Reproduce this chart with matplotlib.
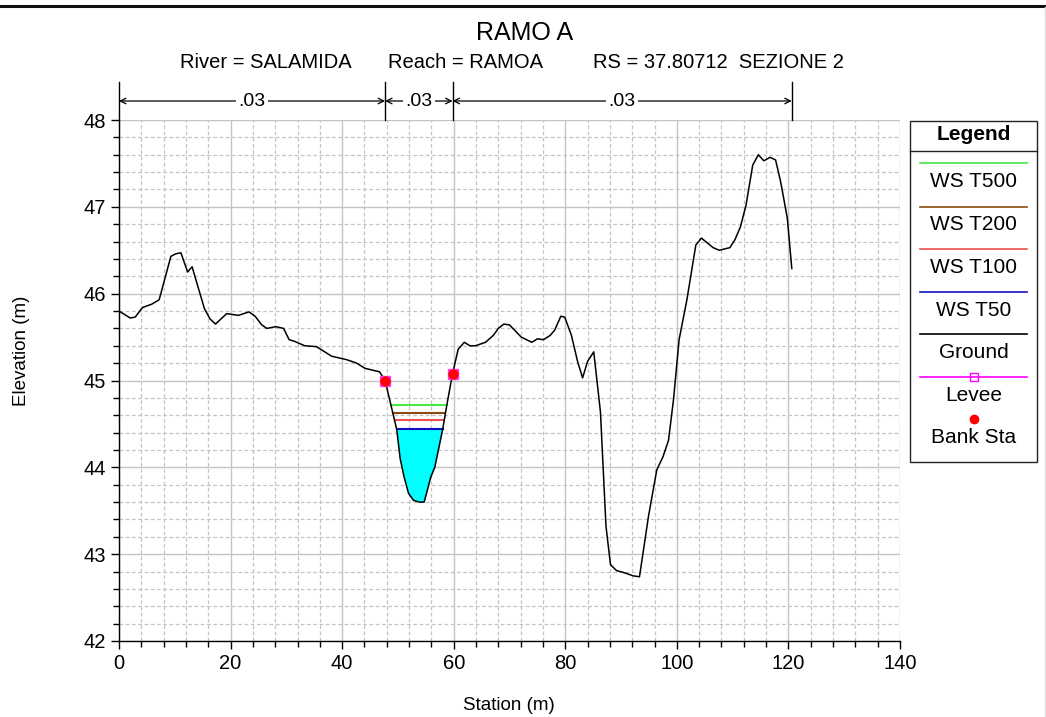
import numpy as np
import matplotlib
matplotlib.use("Agg")
import matplotlib.pyplot as plt
from matplotlib.lines import Line2D
from matplotlib.ticker import MultipleLocator

plt.rcParams['font.family'] = ['Liberation Sans', 'DejaVu Sans']

# ---------------- data ----------------
station = [0.0, 2.0, 2.9, 4.2, 5.9, 7.2, 9.3, 10.2, 11.1, 12.3, 13.1, 15.3, 16.3, 17.3,
           19.3, 21.4, 23.3, 24.4, 25.6, 26.5, 28.1, 29.5, 30.5, 31.5, 33.3, 35.4, 38.1,
           40.8, 42.6, 44.1, 46.7, 47.7, 48.7, 49.8, 50.4, 51.1, 51.9, 52.8, 53.8, 54.7,
           55.2, 55.9, 56.6, 58.0, 58.8, 59.8, 60.8, 61.9, 62.9, 63.9, 65.7, 67.1, 68.0,
           69.0, 70.0, 72.1, 74.0, 75.0, 76.1, 77.3, 78.1, 79.2, 79.9, 81.1, 82.2, 83.1,
           84.0, 85.1, 86.3, 87.3, 88.1, 89.2, 90.4, 92.2, 93.3, 94.9, 96.4, 97.5, 98.5,
           99.4, 100.4, 101.8, 103.4, 104.4, 106.5, 107.6, 109.5, 110.4, 111.4, 112.4,
           113.6, 114.6, 115.6, 116.7, 117.7, 118.6, 119.8, 120.6]
elevation = [45.80, 45.72, 45.73, 45.84, 45.88, 45.93, 46.43, 46.46, 46.47, 46.25, 46.31,
             45.83, 45.71, 45.65, 45.77, 45.75, 45.79, 45.74, 45.64, 45.60, 45.62, 45.60,
             45.47, 45.45, 45.40, 45.39, 45.28, 45.24, 45.20, 45.14, 45.10, 45.00, 44.73,
             44.43, 44.10, 43.89, 43.70, 43.62, 43.60, 43.60, 43.72, 43.89, 44.00, 44.43,
             44.73, 45.08, 45.36, 45.44, 45.40, 45.40, 45.44, 45.52, 45.60, 45.65, 45.64,
             45.50, 45.44, 45.48, 45.47, 45.52, 45.58, 45.74, 45.73, 45.52, 45.22, 45.03,
             45.22, 45.33, 44.64, 43.32, 42.88, 42.81, 42.79, 42.75, 42.74, 43.43, 43.97,
             44.12, 44.31, 44.78, 45.47, 45.93, 46.56, 46.64, 46.53, 46.50, 46.53, 46.62,
             46.77, 47.02, 47.48, 47.60, 47.53, 47.57, 47.54, 47.29, 46.87, 46.29]

ws_names = ['WS T500', 'WS T200', 'WS T100', 'WS T50']
ws_levels = [44.72, 44.62, 44.54, 44.44]
ws_colors = ['#44e844', '#8b4a10', '#f05050', '#1010c0']

bank_sta = [47.7, 59.8]
bank_el = [45.00, 45.08]

manning_sta = [0.0, 47.7, 59.8, 120.6]
manning_n = ['.03', '.03', '.03']

title = 'RAMO A'
subtitle_parts = ['River = SALAMIDA', 'Reach = RAMOA', 'RS = 37.80712  SEZIONE 2']

# ---------------- figure ----------------
W, H = 1046, 717
fig = plt.figure(figsize=(W / 100, H / 100), dpi=100)
ax = fig.add_axes([119 / W, 1 - 641 / H, (900 - 119) / W, (641 - 120) / H])

st = np.array(station)
el = np.array(elevation)

# channel water fill and WS lines
i0 = station.index(bank_sta[0])
i1 = station.index(bank_sta[1])
cs = st[i0:i1 + 1]
ce = el[i0:i1 + 1]
imin = int(np.argmin(ce))
for name, lev, col in zip(ws_names, ws_levels, ws_colors):
    xl = np.interp(lev, ce[:imin + 1][::-1], cs[:imin + 1][::-1])
    xr = np.interp(lev, ce[imin:], cs[imin:])
    if name == 'WS T50':
        xf = np.linspace(xl, xr, 200)
        gf = np.interp(xf, cs, ce)
        ax.fill_between(xf, gf, lev, color='#00ffff', zorder=2, lw=0)
    ax.plot([xl, xr], [lev, lev], color=col, lw=1.5, zorder=3)

ax.plot(st, el, color='black', lw=1.1, zorder=4)
ax.plot(bank_sta, bank_el, ls='none', marker='s', ms=7, mfc='#ff40ff', mec='#ff40ff', zorder=5)
ax.plot(bank_sta, bank_el, ls='none', marker='o', ms=6.5, mfc='red', mec='red', zorder=6)

ax.set_xlim(0, 140)
ax.set_ylim(42, 48)
ax.xaxis.set_major_locator(MultipleLocator(20))
ax.xaxis.set_minor_locator(MultipleLocator(4))
ax.yaxis.set_major_locator(MultipleLocator(1))
ax.yaxis.set_minor_locator(MultipleLocator(0.2))
ax.grid(which='major', color='#c4c4c4', lw=1.0, ls='-', zorder=0)
ax.grid(which='minor', color='#c4c4c4', lw=0.9, ls=(0, (3, 2)), zorder=0)
ax.set_axisbelow(True)
for s in ['top', 'right']:
    ax.spines[s].set_visible(False)
ax.spines['left'].set_linewidth(1.0)
ax.spines['bottom'].set_linewidth(1.0)
ax.tick_params(which='major', direction='out', length=6, width=1, labelsize=14.5, colors='black')
ax.tick_params(which='minor', direction='out', length=4, width=1)
ax.set_xlabel('Station (m)', fontsize=13.5, va='center')
ax.set_ylabel('Elevation (m)', fontsize=13.5, va='center')
ax.xaxis.set_label_coords((509 - 119) / 781, -(705 - 641) / 521)
ax.yaxis.set_label_coords(-(119 - 22) / 781, (641 - 351) / 521)

# titles
fig.text(525 / W, 1 - 33 / H, title, ha='center', va='center', fontsize=18)
for part, cx in zip(subtitle_parts, [265.5, 466, 718]):
    fig.text(cx / W, 1 - 62 / H, part, ha='center', va='center', fontsize=14.5)

# Manning n annotation
trans = ax.get_xaxis_transform()
ytop = 1 + 38 / 521
yarr = 1 + 19 / 521
for s in manning_sta:
    ax.plot([s, s], [1.0, ytop], transform=trans, color='black', lw=1.0, clip_on=False)
for a, b, n in zip(manning_sta[:-1], manning_sta[1:], manning_n):
    ax.annotate('', xy=(a, yarr), xytext=(b, yarr), xycoords=trans, textcoords=trans,
                arrowprops=dict(arrowstyle='<->', color='black', lw=0.9,
                                shrinkA=0, shrinkB=0, mutation_scale=10))
    ax.text(0.5 * (a + b), yarr, n, transform=trans, ha='center', va='center', fontsize=14,
            bbox=dict(facecolor='white', edgecolor='none', pad=1.5))

# top border line
fig.add_artist(Line2D([0, 1], [1 - 6 / H, 1 - 6 / H], transform=fig.transFigure,
                      color='#111111', lw=2.2))
fig.add_artist(Line2D([1 - 1.5 / W, 1 - 1.5 / W], [0, 1 - 7 / H], transform=fig.transFigure,
                      color='#dddddd', lw=1.0))

# legend box (manual, mimicking HEC-RAS)
lx0, lx1 = 910 / W, 1037 / W
ly0, ly1 = 1 - 462 / H, 1 - 121 / H
fig.add_artist(plt.Rectangle((lx0, ly0), lx1 - lx0, ly1 - ly0, transform=fig.transFigure,
                             fill=False, ec='#222222', lw=1.0))
fig.add_artist(Line2D([lx0, lx1], [1 - 150.5 / H, 1 - 150.5 / H], transform=fig.transFigure,
                      color='#222222', lw=1.0))
lcx = (lx0 + lx1) / 2
fig.text(lcx, 1 - 135 / H, 'Legend', ha='center', va='center', fontsize=15, fontweight='bold')
sx0, sx1 = 920 / W, 1027 / W
leg_names = ws_names + ['Ground', 'Levee']
leg_colors = ws_colors + ['black', '#ff00ff']
line_y = [163.3, 206.7, 248.7, 291.7, 334.3, 376.7]
text_y = [181.7, 225, 267.3, 310, 352.7, 395.7]
for nm, c, yl, yt in zip(leg_names, leg_colors, line_y, text_y):
    fig.add_artist(Line2D([sx0, sx1], [1 - yl / H, 1 - yl / H], transform=fig.transFigure,
                          color=c, lw=1.2))
    fig.text(lcx, 1 - yt / H, nm, ha='center', va='center', fontsize=15)
fig.add_artist(Line2D([lcx], [1 - 376.7 / H], transform=fig.transFigure, marker='s', ms=6,
                      mfc='none', mec='#ff00ff', mew=1.0, ls='none'))
fig.add_artist(Line2D([lcx], [1 - 419.3 / H], transform=fig.transFigure, marker='o', ms=6,
                      mfc='red', mec='red', ls='none'))
fig.text(lcx, 1 - 437.7 / H, 'Bank Sta', ha='center', va='center', fontsize=15)

fig.savefig('out.png', dpi=100, facecolor='white')
